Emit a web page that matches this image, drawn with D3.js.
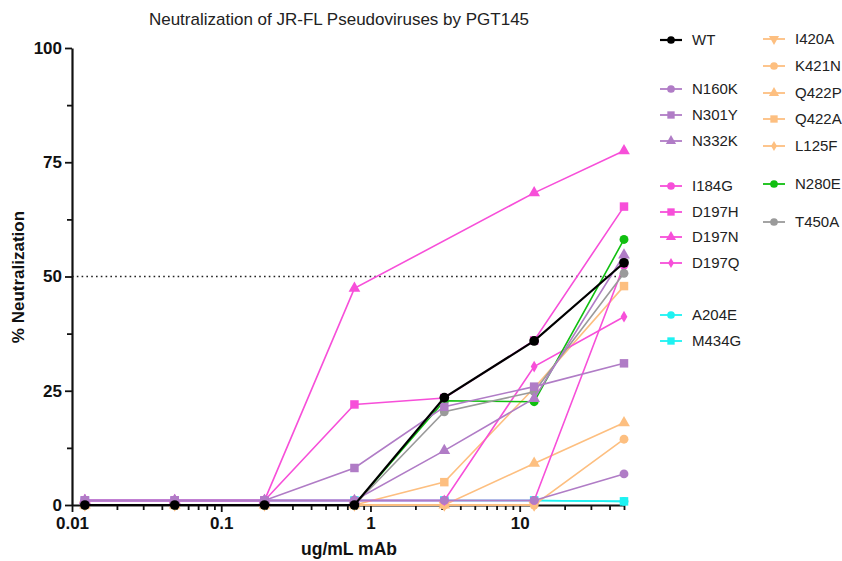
<!DOCTYPE html>
<html>
<head>
<meta charset="UTF-8">
<title>Neutralization of JR-FL Pseudoviruses by PGT145</title>
<script src="https://cdn.jsdelivr.net/npm/d3@7"></script>
<style>
  body { margin: 0; background: #fff; }
  text { font-family: "Liberation Sans", Arial, Helvetica, sans-serif; }
</style>
</head>
<body>
<div id="chart"></div>
<script>
// ug/mL mAb (4-fold dilutions)
var conc = [0.0122, 0.0488, 0.195, 0.781, 3.125, 12.5, 50];

// % neutralization per virus
var WT    = [0, 0, 0, 0, 23.5, 35.9, 53];
var N160K = [1, 1, 1, 1, 1, 1, 6.8];
var N301Y = [1, 1, 1, 8.1, 21.5, 25.9, 31];
var N332K = [1, 1, 1, 1, 11.9, 23.3, 54.7];
var I184G = [1, 1, 1, 1, 1, 1, 52.5];
var D197H = [1, 1, 1, 22, 23.4, 36, 65.3];
var D197N = [1, 1, 1, 47.4, null, 68.3, 77.5];
var D197Q = [1, 1, 1, 1, 1, 30.3, 41.2];
var A204E = [1, 1, 1, 1, 1, 1, 0.8];
var M434G = [1, 1, 1, 1, 1, 1, 0.8];
var I420A = [0, 0, 0, 0, 0, 0, null];
var K421N = [0, 0, 0, 0, 0, 0, 14.4];
var Q422P = [0, 0, 0, 0, 0, 9.1, 18];
var Q422A = [0, 0, 0, 0, 5, 25.6, 47.9];
var L125F = [0, 0, 0, 0, 0, 0, null];
var N280E = [0, 0, 0, 0, 22.8, 22.6, 58.1];
var T450A = [0, 0, 0, 0, 20.4, 24.8, 50.7];

var yTicks = [0, 25, 50, 75, 100];
var xTicks = [0.01, 0.1, 1, 10];
var xTickLabels = ["0.01", "0.1", "1", "10"];

var purple = "#b07cc6", pink = "#f74fd9", cyan = "#1ef2f2",
    orange = "#fdbf80", green = "#10bf10", grey = "#9a9a9a";

// name, values, colour, symbol, legend column, legend y  (listed in drawing order)
var series = [
  ["A204E", A204E, cyan,   "circle",   0, 315],
  ["M434G", M434G, cyan,   "square",   0, 341],
  ["I420A", I420A, orange, "tridown",  1, 39],
  ["K421N", K421N, orange, "circle",   1, 66],
  ["Q422P", Q422P, orange, "triangle", 1, 93],
  ["Q422A", Q422A, orange, "square",   1, 119],
  ["L125F", L125F, orange, "diamond",  1, 146],
  ["I184G", I184G, pink,   "circle",   0, 186],
  ["D197H", D197H, pink,   "square",   0, 212],
  ["D197N", D197N, pink,   "triangle", 0, 237],
  ["D197Q", D197Q, pink,   "diamond",  0, 263],
  ["N280E", N280E, green,  "circle",   1, 184],
  ["T450A", T450A, grey,   "circle",   1, 222],
  ["N160K", N160K, purple, "circle",   0, 89],
  ["N301Y", N301Y, purple, "square",   0, 115],
  ["N332K", N332K, purple, "triangle", 0, 141],
  ["WT",    WT,    "#000", "circle",   0, 40]
];

var W = 842, H = 561;
var svg = d3.select("#chart").append("svg").attr("width", W).attr("height", H);

var x = d3.scaleLog().domain([0.01, 50]).range([72, 624]);
var y = d3.scaleLinear().domain([0, 100]).range([505, 48]);

// symbol helpers
var symType = {
  circle: d3.symbolCircle, square: d3.symbolSquare, triangle: d3.symbolTriangle,
  diamond: d3.symbolDiamond, tridown: d3.symbolTriangle
};
var symSize = { circle: 62, square: 72, triangle: 60, diamond: 40, tridown: 60 };
function symPath(s, k) {
  return d3.symbol().type(symType[s]).size(symSize[s] * (k || 1))();
}
function symRot(s) { return s === "tridown" ? " rotate(180)" : ""; }

// title
svg.append("text").attr("x", 339).attr("y", 25).attr("text-anchor", "middle")
  .attr("font-size", 17).attr("fill", "#222")
  .text("Neutralization of JR-FL Pseudoviruses by PGT145");

// 50% line
svg.append("line").attr("x1", x(0.01)).attr("x2", x(50))
  .attr("y1", y(50)).attr("y2", y(50))
  .attr("stroke", "#222").attr("stroke-width", 1.6).attr("stroke-dasharray", "1.6,3.2");

// axes
svg.append("g").attr("transform", "translate(" + x(0.01) + ",0)")
  .call(d3.axisLeft(y).tickValues(yTicks).tickSize(7).tickSizeOuter(0).tickPadding(3));
svg.append("g").attr("transform", "translate(" + x(0.01) + ",0)")
  .call(d3.axisLeft(y).tickValues([12.5, 37.5, 62.5, 87.5]).tickSize(5).tickFormat(""))
  .select(".domain").remove();

var minor = [];
[0.01, 0.1, 1, 10].forEach(function(d) {
  for (var k = 2; k <= 9; k++) if (d * k <= 50) minor.push(d * k);
});
svg.append("g").attr("transform", "translate(0," + y(0) + ")")
  .call(d3.axisBottom(x).tickValues(xTicks).tickSize(7).tickSizeOuter(0).tickPadding(5)
    .tickFormat(function(d, i) { return xTickLabels[i]; }));
svg.append("g").attr("transform", "translate(0," + y(0) + ")")
  .call(d3.axisBottom(x).tickValues(minor).tickSize(5).tickFormat(""))
  .select(".domain").remove();

svg.selectAll(".domain").attr("stroke", "#111").attr("stroke-width", 2.2);
svg.selectAll(".tick line").attr("stroke", "#111").attr("stroke-width", 1.8);
svg.selectAll(".tick text").attr("font-size", 17).attr("font-weight", "bold")
  .attr("fill", "#111").style("font-family", "'Liberation Sans', Arial, sans-serif");

// axis titles
svg.append("text").attr("transform", "translate(24,277) rotate(-90)")
  .attr("text-anchor", "middle").attr("font-size", 17).attr("font-weight", "bold")
  .attr("fill", "#111").text("% Neutralization");
svg.append("text").attr("x", 349).attr("y", 555).attr("text-anchor", "middle")
  .attr("font-size", 17.5).attr("font-weight", "bold").attr("fill", "#111")
  .text("ug/mL mAb");

// series
var line = d3.line()
  .x(function(d) { return x(d[0]); })
  .y(function(d) { return y(d[1]); });

series.forEach(function(s) {
  var pts = conc.map(function(c, i) { return [c, s[1][i]]; })
    .filter(function(d) { return d[1] != null; });
  var g = svg.append("g");
  var isWT = s[0] === "WT";
  g.append("path").datum(pts)
    .attr("d", line).attr("fill", "none").attr("stroke", s[2])
    .attr("stroke-width", isWT ? 2.2 : 1.6);
  g.selectAll("path.pt").data(pts)
    .enter().append("path").attr("class", "pt")
    .attr("transform", function(d) { return "translate(" + x(d[0]) + "," + y(d[1]) + ")" + symRot(s[3]); })
    .attr("d", symPath(s[3], isWT ? 1.2 : 1))
    .attr("fill", s[2]);
});

// legend
var legX = [660, 763];
series.forEach(function(s) {
  var lx = legX[s[4]], ly = s[5];
  var g = svg.append("g").attr("transform", "translate(" + lx + "," + ly + ")");
  g.append("line").attr("x1", 0).attr("x2", 22).attr("stroke", s[2])
    .attr("stroke-width", s[0] === "WT" ? 2.2 : 1.8);
  g.append("path").attr("transform", "translate(11,0)" + symRot(s[3]))
    .attr("d", symPath(s[3], 0.75)).attr("fill", s[2]);
  g.append("text").attr("x", 32).attr("dy", "0.36em").attr("font-size", 15)
    .attr("fill", "#222").text(s[0]);
});
</script>
</body>
</html>
